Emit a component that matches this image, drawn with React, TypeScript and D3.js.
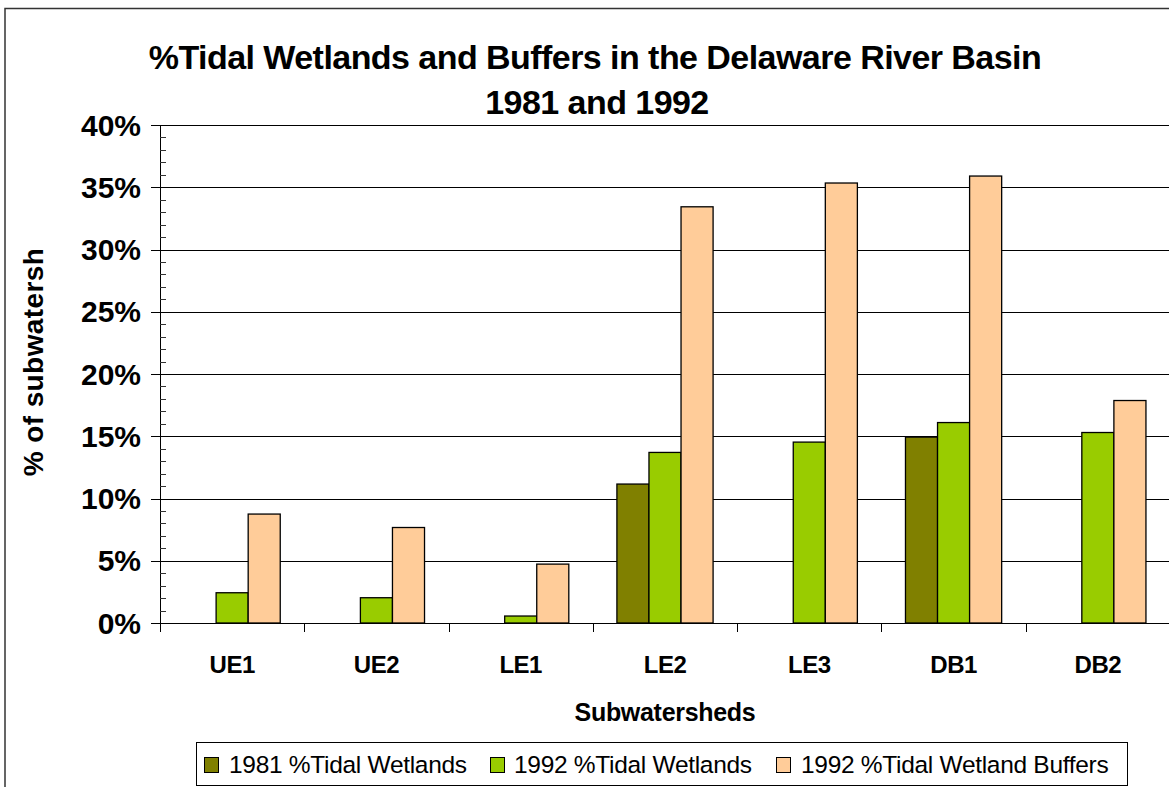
import React from "react";
import * as d3 from "d3";

const categories = ["UE1", "UE2", "LE1", "LE2", "LE3", "DB1", "DB2"];
const seriesNames = [
  "1981 %Tidal Wetlands",
  "1992 %Tidal Wetlands",
  "1992 %Tidal Wetland Buffers",
];
const wetlands1981: (number | null)[] = [null, null, null, 11.16, null, 14.93, null];
const wetlands1992: (number | null)[] = [2.43, 2.03, 0.56, 13.7, 14.53, 16.1, 15.3];
const buffers1992: (number | null)[] = [8.75, 7.67, 4.73, 33.43, 35.34, 35.9, 17.87];
const yTicks = [0, 5, 10, 15, 20, 25, 30, 35, 40];
const colors = ["#808000", "#99CC00", "#FFCC99"];

const W = 1169;
const H = 787;
const plotLeft = 160;
const plotRight = 1170;
const plotTop = 125;
const plotBottom = 623;

export default function App() {
  const series = [wetlands1981, wetlands1992, buffers1992];
  const x = d3.scaleBand<string>().domain(categories).range([plotLeft, plotRight]).padding(0);
  const bw = x.bandwidth();
  const barW = bw / 4.5;
  const inner = d3
    .scaleBand<string>()
    .domain(seriesNames)
    .range([bw * 0.75 / 4.5, bw - (bw * 0.75) / 4.5])
    .padding(0);
  const y = d3.scaleLinear().domain([0, 40]).range([plotBottom, plotTop]);
  const minor = d3.range(0, 41, 1).filter((v) => v % 5 !== 0);
  const font = "'Liberation Sans', Arial, sans-serif";
  const crisp = (v: number) => Math.round(v) + 0.5;

  const legendItems = [
    { sq: 204, tx: 229 },
    { sq: 490, tx: 514 },
    { sq: 776, tx: 801 },
  ];

  return (
    <svg
      width={W}
      height={H}
      style={{ position: "absolute", left: 0, top: 0, background: "#fff" }}
      fontFamily={font}
    >
      <rect x={0} y={0} width={W} height={H} fill="#fff" />
      {/* outer frame */}
      <rect x={5} y={8.5} width={1300} height={900} fill="none" stroke="#333" strokeWidth={1.5} />

      {/* title */}
      <text x={595} y={69} textAnchor="middle" fontSize={34} fontWeight="bold" letterSpacing={-0.55}>
        %Tidal Wetlands and Buffers in the Delaware River Basin
      </text>
      <text x={597} y={114} textAnchor="middle" fontSize={34} fontWeight="bold" letterSpacing={-0.55}>
        1981 and 1992
      </text>

      {/* gridlines */}
      {yTicks
        .filter((t) => t > 0)
        .map((t) => (
          <line key={"g" + t} x1={plotLeft} x2={W} y1={crisp(y(t))} y2={crisp(y(t))} stroke="#000" strokeWidth={1} />
        ))}

      {/* bars */}
      {series.map((s, si) =>
        s.map((v, ci) =>
          v == null ? null : (
            <rect
              key={`b${si}-${ci}`}
              x={(x(categories[ci]) as number) + (inner(seriesNames[si]) as number)}
              y={y(v)}
              width={barW}
              height={y(0) - y(v)}
              fill={colors[si]}
              stroke="#000"
              strokeWidth={1.3}
            />
          )
        )
      )}

      {/* y axis */}
      <line x1={crisp(plotLeft)} x2={crisp(plotLeft)} y1={plotTop} y2={plotBottom} stroke="#000" strokeWidth={1} />
      {yTicks.map((t) => (
        <g key={"yt" + t}>
          <line x1={151} x2={plotLeft} y1={crisp(y(t))} y2={crisp(y(t))} stroke="#000" strokeWidth={1} />
          <text x={141} y={y(t) + 10.5} textAnchor="end" fontSize={30} fontWeight="bold">
            {t + "%"}
          </text>
        </g>
      ))}
      {minor.map((t) => (
        <line key={"m" + t} x1={plotLeft} x2={plotLeft + 6} y1={crisp(y(t))} y2={crisp(y(t))} stroke="#333" strokeWidth={1} />
      ))}

      {/* x axis */}
      <line x1={plotLeft} x2={W} y1={crisp(plotBottom)} y2={crisp(plotBottom)} stroke="#000" strokeWidth={1} />
      {categories.map((c) => (
        <line
          key={"xt" + c}
          x1={crisp(x(c) as number)}
          x2={crisp(x(c) as number)}
          y1={plotBottom}
          y2={plotBottom + 9}
          stroke="#000"
          strokeWidth={1}
        />
      ))}
      {categories.map((c) => (
        <text key={"xl" + c} x={(x(c) as number) + bw / 2} y={673} textAnchor="middle" fontSize={24} fontWeight="bold" letterSpacing={-0.5}>
          {c}
        </text>
      ))}

      {/* axis titles */}
      <text x={(plotLeft + plotRight) / 2} y={721} textAnchor="middle" fontSize={25} fontWeight="bold" letterSpacing={-0.3}>
        Subwatersheds
      </text>
      <text
        transform={`translate(43, 362) rotate(-90)`}
        textAnchor="middle"
        fontSize={28}
        fontWeight="bold"
        letterSpacing={0.4}
      >
        % of subwatersh
      </text>

      {/* legend */}
      <rect x={196.5} y={742.5} width={931} height={43} fill="#fff" stroke="#000" strokeWidth={1} />
      {seriesNames.map((n, i) => (
        <g key={"lg" + i}>
          <rect x={legendItems[i].sq + 0.5} y={757.5} width={14} height={15} fill={colors[i]} stroke="#000" strokeWidth={1} />
          <text x={legendItems[i].tx} y={773} fontSize={24.5} letterSpacing={-0.3}>
            {n}
          </text>
        </g>
      ))}
    </svg>
  );
}
